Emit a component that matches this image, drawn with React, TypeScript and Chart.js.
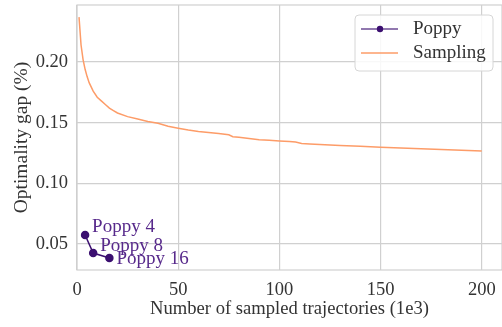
import React, { useEffect, useRef } from 'react';
import { Chart, registerables } from 'chart.js';
Chart.register(...registerables);

const samplingX = [1, 2, 3, 4, 5, 6, 8, 10, 12, 14, 16, 18, 20, 25, 30, 35, 40, 45, 50, 55, 60, 65, 70, 75, 77, 80, 85, 90, 95, 100, 105, 108, 111, 115, 120, 130, 140, 150, 160, 170, 180, 190, 200];
const samplingY = [0.237, 0.214, 0.202, 0.194, 0.188, 0.183, 0.176, 0.171, 0.168, 0.165, 0.162, 0.16, 0.158, 0.155, 0.153, 0.151, 0.1495, 0.147, 0.1455, 0.144, 0.1428, 0.142, 0.141, 0.14, 0.1385, 0.138, 0.137, 0.136, 0.1355, 0.135, 0.1345, 0.134, 0.1328, 0.1325, 0.132, 0.1313, 0.1305, 0.1298, 0.1292, 0.1285, 0.128, 0.1273, 0.1267];
const poppyX = [4, 8, 16];
const poppyY = [0.0574, 0.0426, 0.0385];
const poppyLabels = ['Poppy 4', 'Poppy 8', 'Poppy 16'];
const seriesNames = ['Poppy', 'Sampling'];
const xTicks = [0, 50, 100, 150, 200];
const yTicks = [0.05, 0.1, 0.15, 0.2];
const xTitle = 'Number of sampled trajectories (1e3)';
const yTitle = 'Optimality gap (%)';

const FONT = '"Liberation Serif", "Times New Roman", serif';
const POPPY = '#3b0f70';
const POPPY_TEXT = '#57298b';
const SAMPLING = '#fd9c68';
const GRID = '#d0d0d0';
const TEXT = '#333333';

export default function App() {
  const ref = useRef<HTMLCanvasElement | null>(null);
  useEffect(() => {
    if (!ref.current) return;
    const annotOffsets = [[7, -3.5], [7, -2], [7, 6]];
    const zeroPad = (s: any) => {
      s.paddingTop = 0;
      s.paddingBottom = 0;
      s.paddingLeft = 0;
      s.paddingRight = 0;
    };
    const framePlugin = {
      id: 'frame',
      beforeDatasetsDraw(chart: any) {
        const { ctx, chartArea: a } = chart;
        ctx.save();
        ctx.strokeStyle = GRID;
        ctx.lineWidth = 1.2;
        ctx.strokeRect(a.left, a.top, a.right - a.left, a.bottom - a.top);
        ctx.restore();
      },
      afterDatasetsDraw(chart: any) {
        const { ctx } = chart;
        const xs = chart.scales.x, ys = chart.scales.y;
        ctx.save();
        ctx.font = `19px ${FONT}`;
        ctx.fillStyle = POPPY_TEXT;
        ctx.textBaseline = 'alphabetic';
        ctx.textAlign = 'left';
        poppyLabels.forEach((lab, i) => {
          const px = xs.getPixelForValue(poppyX[i]);
          const py = ys.getPixelForValue(poppyY[i]);
          ctx.fillText(lab, px + annotOffsets[i][0], py + annotOffsets[i][1]);
        });
        // legend
        const bx = 355, by = 15, bw = 138, bh = 56, r = 4;
        ctx.beginPath();
        ctx.moveTo(bx + r, by);
        ctx.arcTo(bx + bw, by, bx + bw, by + bh, r);
        ctx.arcTo(bx + bw, by + bh, bx, by + bh, r);
        ctx.arcTo(bx, by + bh, bx, by, r);
        ctx.arcTo(bx, by, bx + bw, by, r);
        ctx.closePath();
        ctx.fillStyle = 'rgba(255,255,255,0.85)';
        ctx.fill();
        ctx.strokeStyle = '#d6d6d6';
        ctx.lineWidth = 1;
        ctx.stroke();
        const rows = [29, 53];
        ctx.strokeStyle = 'rgba(59,15,112,0.75)';
        ctx.lineWidth = 1.5;
        ctx.beginPath();
        ctx.moveTo(361, rows[0]);
        ctx.lineTo(398, rows[0]);
        ctx.stroke();
        ctx.fillStyle = POPPY;
        ctx.beginPath();
        ctx.arc(380, rows[0], 3.2, 0, Math.PI * 2);
        ctx.fill();
        ctx.strokeStyle = SAMPLING;
        ctx.beginPath();
        ctx.moveTo(361, rows[1]);
        ctx.lineTo(398, rows[1]);
        ctx.stroke();
        ctx.fillStyle = TEXT;
        ctx.font = `19px ${FONT}`;
        ctx.textBaseline = 'middle';
        ctx.fillText(seriesNames[0], 413, rows[0]);
        ctx.fillText(seriesNames[1], 413, rows[1]);
        ctx.restore();
      },
    };
    const chart = new Chart(ref.current, {
      type: 'scatter',
      data: {
        datasets: [
          {
            label: seriesNames[0],
            data: poppyX.map((x, i) => ({ x, y: poppyY[i] })),
            showLine: true,
            borderColor: POPPY,
            backgroundColor: POPPY,
            borderWidth: 1.5,
            pointRadius: 3.5,
            pointHoverRadius: 3.5,
          },
          {
            label: seriesNames[1],
            data: samplingX.map((x, i) => ({ x, y: samplingY[i] })),
            showLine: true,
            borderColor: SAMPLING,
            backgroundColor: SAMPLING,
            borderWidth: 1.5,
            pointRadius: 0,
            tension: 0,
          },
        ],
      },
      options: {
        animation: false,
        responsive: false,
        maintainAspectRatio: false,
        layout: { autoPadding: false, padding: { top: 5, right: 0, left: 0, bottom: 0 } },
        plugins: { legend: { display: false }, tooltip: { enabled: false } },
        scales: {
          x: {
            type: 'linear',
            min: 0,
            max: 210,
            afterBuildTicks: (s: any) => { s.ticks = xTicks.map((v) => ({ value: v })); },
            afterFit: (s: any) => { s.height = 57; zeroPad(s); },
            ticks: {
              font: { family: FONT, size: 18.5 },
              color: TEXT,
              padding: 9,
              maxRotation: 0,
              callback: (v: any) => String(v),
            },
            grid: { color: GRID, lineWidth: 1.2, drawTicks: false },
            border: { display: false },
            title: {
              display: true,
              text: xTitle,
              font: { family: FONT, size: 18.6 },
              color: TEXT,
              padding: { top: 0, bottom: 7 },
            },
          },
          y: {
            type: 'linear',
            min: 0.0286,
            max: 0.247,
            afterBuildTicks: (s: any) => { s.ticks = yTicks.map((v) => ({ value: v })); },
            afterFit: (s: any) => { s.width = 77; zeroPad(s); },
            ticks: {
              font: { family: FONT, size: 18.5 },
              color: TEXT,
              padding: 9,
              callback: (v: any) => Number(v).toFixed(2),
            },
            grid: { color: GRID, lineWidth: 1.2, drawTicks: false },
            border: { display: false },
            title: {
              display: true,
              text: yTitle,
              font: { family: FONT, size: 19.5 },
              color: TEXT,
              padding: { top: 10, bottom: 0 },
            },
          },
        },
      },
      plugins: [framePlugin],
    });
    return () => chart.destroy();
  }, []);
  return (
    <div style={{ position: 'fixed', left: 0, top: 0, width: 502, height: 327, background: '#fff' }}>
      <canvas ref={ref} width={502} height={327} style={{ width: 502, height: 327, display: 'block' }} />
    </div>
  );
}
